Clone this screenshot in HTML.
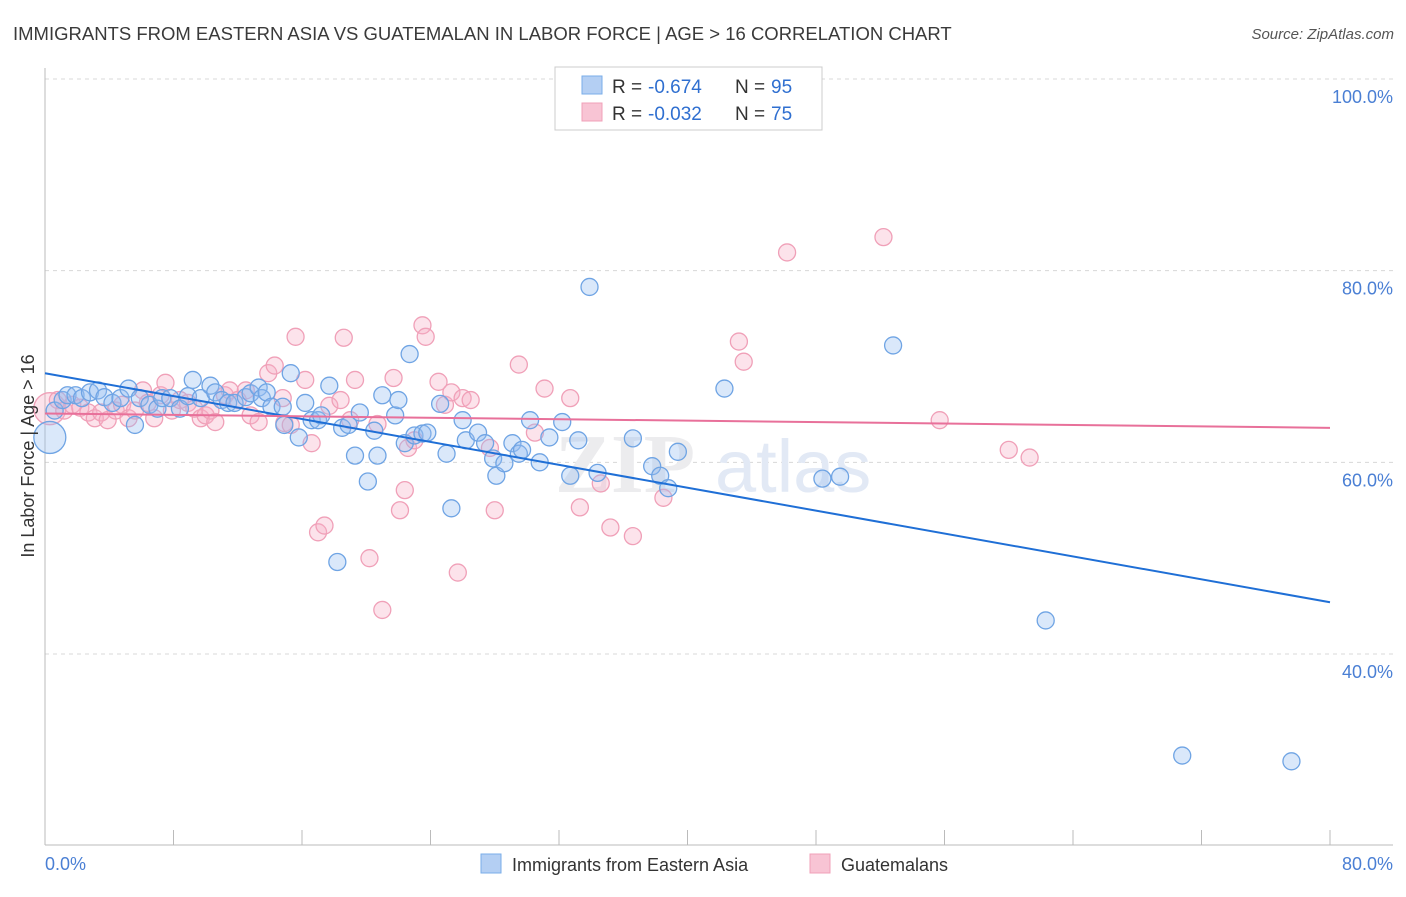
<!DOCTYPE html>
<html><head><meta charset="utf-8">
<style>
html,body{margin:0;padding:0;background:#fff;}
body{width:1406px;height:892px;overflow:hidden;font-family:"Liberation Sans",sans-serif;}
</style></head>
<body>
<svg id="chart" width="1406" height="892" viewBox="0 0 1406 892" xmlns="http://www.w3.org/2000/svg" font-family="Liberation Sans, sans-serif">
  <text x="13" y="40" font-size="18.5" fill="#3a3a3a">IMMIGRANTS FROM EASTERN ASIA VS GUATEMALAN IN LABOR FORCE | AGE &gt; 16 CORRELATION CHART</text>
  <text x="1394" y="39" font-size="15" fill="#555" font-style="italic" text-anchor="end">Source: ZipAtlas.com</text>
  <g id="grid"></g>
  <text x="555" y="492" font-size="84" fill="#ececee" font-family="Liberation Serif, serif" font-weight="bold">ZIP</text>
  <text x="715" y="492" font-size="74" fill="#e2e9f5">atlas</text>
  <g id="axes"></g>
  <g id="pts"></g>
  <g id="lines"></g>
  <text transform="translate(34,456) rotate(-90)" font-size="18" fill="#333" text-anchor="middle">In Labor Force | Age &gt; 16</text>
  <text x="45" y="870" font-size="18" fill="#4a7fd4">0.0%</text>
  <text x="1393" y="870" font-size="18" fill="#4a7fd4" text-anchor="end">80.0%</text>
  <g>
    <rect x="555" y="67" width="267" height="63" fill="#fff" stroke="#ccc"/>
    <rect x="582" y="76" width="20" height="18" fill="#b4cff3" stroke="#7aaee8"/>
    <rect x="582" y="103" width="20" height="18" fill="#f8c4d4" stroke="#f0a0b8"/>
    <text x="612" y="93" font-size="19" fill="#333">R =</text>
    <text x="648" y="93" font-size="19" fill="#2f6fd0">-0.674</text>
    <text x="735" y="93" font-size="19" fill="#333">N =</text>
    <text x="771" y="93" font-size="19" fill="#2f6fd0">95</text>
    <text x="612" y="120" font-size="19" fill="#333">R =</text>
    <text x="648" y="120" font-size="19" fill="#2f6fd0">-0.032</text>
    <text x="735" y="120" font-size="19" fill="#333">N =</text>
    <text x="771" y="120" font-size="19" fill="#2f6fd0">75</text>
  </g>
  <g>
    <rect x="481" y="854" width="20" height="19" fill="#b4cff3" stroke="#7aaee8"/>
    <text x="512" y="871" font-size="18" fill="#333">Immigrants from Eastern Asia</text>
    <rect x="810" y="854" width="20" height="19" fill="#f8c4d4" stroke="#f0a0b8"/>
    <text x="841" y="871" font-size="18" fill="#333">Guatemalans</text>
  </g>
</svg>
<script>
const yTicks = [40, 60, 80, 100];
const yTickLabels = ["40.0%", "60.0%", "80.0%", "100.0%"];
const xTicks = [0, 8, 16, 24, 32, 40, 48, 56, 64, 72, 80];
const blueX = [0.3,0.6,1.1,1.4,1.9,2.3,2.8,3.3,3.7,4.2,4.7,5.2,5.6,5.9,6.5,7.0,7.3,7.8,8.4,8.9,9.2,9.7,10.3,10.6,11.0,11.4,11.8,12.5,12.8,13.3,13.5,13.8,14.1,14.8,14.9,15.3,15.8,16.2,16.6,17.0,17.2,17.7,18.2,18.5,18.9,19.3,19.6,20.1,20.5,20.7,21.0,21.8,22.0,22.4,22.7,23.0,23.5,23.8,24.6,25.0,25.3,26.0,26.2,26.96,27.4,27.9,28.1,28.6,29.1,29.5,29.7,30.2,30.8,31.4,32.2,32.7,33.2,33.9,34.4,36.6,37.8,38.3,38.8,39.4,42.3,48.4,49.5,52.8,62.3,70.8,77.6];
const blueY = [62.6,65.4,66.5,67.0,67.0,66.7,67.3,67.5,66.8,66.2,66.7,67.7,63.9,66.7,66.0,65.6,66.7,66.7,65.6,66.9,68.6,66.7,68.0,67.3,66.5,66.2,66.2,66.8,67.2,67.8,66.7,67.3,65.8,65.8,63.9,69.3,62.6,66.2,64.4,64.4,64.9,68.0,49.6,63.6,63.9,60.7,65.2,58.0,63.3,60.7,67.0,64.9,66.5,62.0,71.3,62.8,63.0,63.1,66.1,60.9,55.2,64.4,62.3,63.1,62.0,60.4,58.6,59.9,62.0,60.9,61.3,64.4,60.0,62.6,64.2,58.6,62.3,78.3,58.9,62.5,59.6,58.6,57.3,61.1,67.7,58.3,58.5,72.2,43.5,29.4,28.8];
const pinkX = [0.3,0.8,1.2,1.7,2.2,2.7,3.1,3.5,3.9,4.4,4.8,5.2,5.6,6.1,6.4,6.8,7.2,7.5,7.9,8.4,8.9,9.3,9.7,10.0,10.3,10.6,11.2,11.5,12.0,12.5,12.8,13.3,13.9,14.3,14.8,14.9,15.3,15.6,16.2,16.6,17.0,17.4,17.7,18.4,18.6,19.0,19.3,20.2,20.7,21.0,21.7,22.1,22.4,22.6,23.0,23.5,23.7,24.5,24.9,25.3,25.7,26.0,26.5,27.7,28.0,29.5,30.5,31.1,32.7,33.3,34.6,35.2,36.6,38.5,43.2,43.5,46.2,52.2,55.7,60.0,61.3];
const pinkY = [65.6,66.5,65.4,66.0,65.7,65.2,64.6,65.2,64.4,65.4,66.0,64.6,65.4,67.5,66.2,64.6,67.0,68.3,65.4,66.5,66.2,65.6,64.6,64.9,65.4,64.2,67.0,67.5,66.5,67.5,64.9,64.2,69.3,70.1,66.7,64.1,63.9,73.1,68.6,62.0,52.7,53.4,65.9,66.5,73.0,64.4,68.6,50.0,64.0,44.6,68.8,55.0,57.1,61.5,62.3,74.3,73.1,68.4,66.0,67.3,48.5,66.7,66.5,61.5,55.0,70.2,63.1,67.7,66.7,55.3,57.8,53.2,52.3,56.3,72.6,70.5,81.9,83.5,64.4,61.3,60.5];
const blueTrend = [69.3, 45.4];
const pinkTrend = [65.1, 63.6];

const NS = "http://www.w3.org/2000/svg";
const X0 = 45, X1 = 1330, YB = 654, YT = 79;
function sx(v){ return X0 + (v/80)*(X1-X0); }
function sy(v){ return YB - (v-40)/60*(YB-YT); }
function mk(tag, attrs, parent){ const e=document.createElementNS(NS,tag); for(const k in attrs) e.setAttribute(k,attrs[k]); parent.appendChild(e); return e; }

const grid=document.getElementById('grid');
yTicks.forEach((t,i)=>{
  const l=mk('line',{x1:45,x2:1393,y1:sy(t),y2:sy(t),stroke:'#d8d8d8','stroke-dasharray':'4,4'},grid);
  
  
  const tx=mk('text',{x:1393,y:sy(t)+24,'font-size':18,fill:'#4a7fd4','text-anchor':'end'},grid);
  tx.textContent=yTickLabels[i];
  
  
});
const axes=document.getElementById('axes');
const ya=mk('line',{x1:45,x2:45,y1:68,y2:845,stroke:'#bbb'},axes);


const xa=mk('line',{x1:45,x2:1393,y1:845,y2:845,stroke:'#bbb'},axes);


xTicks.forEach(t=>{
  const tk=mk('line',{x1:sx(t),x2:sx(t),y1:830,y2:845,stroke:'#bbb'},axes);
  
  
});

const pts=document.getElementById('pts');
function drawSeries(xs,ys,fill,stroke,name){
  xs.forEach((x,i)=>{
    const r = (x<0.5) ? 16 : 8.5;
    const c=mk('circle',{cx:sx(x),cy:sy(ys[i]),r:r,fill:fill,stroke:stroke,'stroke-width':1.3},pts);
    
    
  });
}
drawSeries(pinkX,pinkY,'rgba(245,175,198,0.35)','#f0a0b8','point-guatemalans');
drawSeries(blueX,blueY,'rgba(150,190,240,0.35)','#6fa4e4','point-eastern-asia');

const lines=document.getElementById('lines');
const bl=mk('line',{x1:sx(0),y1:sy(blueTrend[0]),x2:sx(80),y2:sy(blueTrend[1]),stroke:'#1f6fd6','stroke-width':2},lines);


const pl=mk('line',{x1:sx(0),y1:sy(pinkTrend[0]),x2:sx(80),y2:sy(pinkTrend[1]),stroke:'#e8709a','stroke-width':2},lines);


</script>
</body></html>
